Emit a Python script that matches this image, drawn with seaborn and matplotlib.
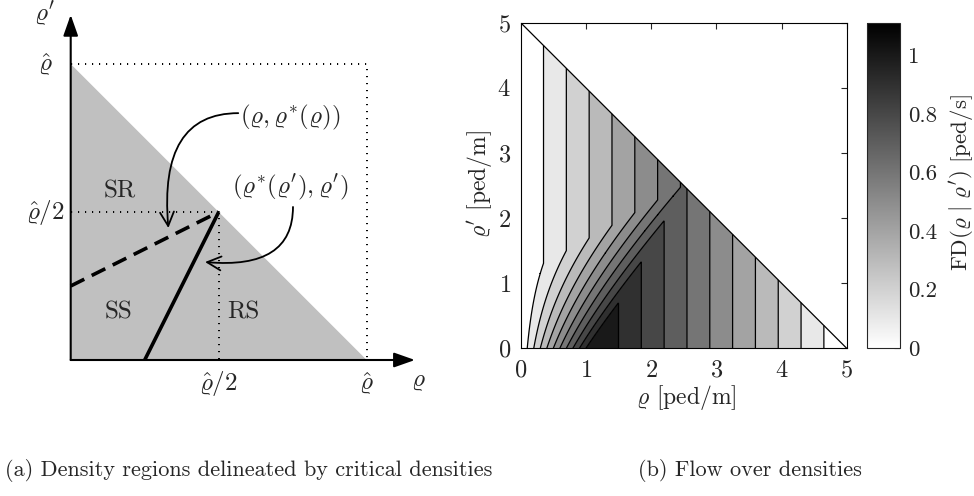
import numpy as np
import matplotlib
matplotlib.use("Agg")
import matplotlib.pyplot as plt
import seaborn as sns
from matplotlib.colors import Normalize
from matplotlib.cm import ScalarMappable

# ---------------------------------------------------------------
# Model constants (densities in ped/m, flows in ped/s)
# ---------------------------------------------------------------
rho_hat = 5.0            # maximal density
v_free = 1.0             # speed with no opposing density
v_slow = 2.0 / 7.0       # speed in the SR / RS regimes

rho_ticks = [0, 1, 2, 3, 4, 5]
flow_levels = [0.1, 0.2, 0.3, 0.4, 0.5, 0.6, 0.7, 0.8, 0.9, 1.0]
cbar_ticks = [0, 0.2, 0.4, 0.6, 0.8, 1.0]
cbar_ticklabels = ["0", "0.2", "0.4", "0.6", "0.8", "1"]

# schematic panel (a), in units of rho_hat
crit_start = 0.25        # critical-density lines start at rho_hat/4
region_names = ["SR", "SS", "RS"]
captions = ["(a) Density regions delineated by critical densities",
            "(b) Flow over densities"]

# ---------------------------------------------------------------
# Style
# ---------------------------------------------------------------
sns.set_style("white")
plt.rcParams.update({
    "font.family": ["cmr10", "DejaVu Serif"],
    "mathtext.fontset": "cm",
    "axes.formatter.use_mathtext": True,
    "axes.unicode_minus": False,
})
gray_cmap = sns.blend_palette(["white", "black"], as_cmap=True)

W, H = 974, 496
fig = plt.figure(figsize=(W / 100, H / 100), dpi=100)

# ---------------------------------------------------------------
# (a) schematic of the density regions
# ---------------------------------------------------------------
ox, oy, unit = 70.7, 136.0, 296.0          # origin (px from left/bottom), px per rho_hat
ax1 = fig.add_axes([0, 100 / H, 440 / W, 396 / H])
ax1.set_xlim(-ox / unit, (440 - ox) / unit)
ax1.set_ylim((100 - oy) / unit, (H - oy) / unit)
ax1.axis("off")

ax1.fill([0, 1, 0], [0, 0, 1], color="#c0c0c0", lw=0, zorder=1)

dot = (0, (0.6, 3.0))
ax1.plot([0, 1, 1], [1, 1, 0], color="k", lw=1.4, ls=dot, zorder=2)
ax1.plot([0, 0.5, 0.5], [0.5, 0.5, 0], color="k", lw=1.4, ls=dot, zorder=2)

# critical densities: (rho, rho*(rho)) dashed, (rho*(rho'), rho') solid
ax1.plot([0, 0.5], [crit_start, 0.5], color="k", lw=2.6, dashes=(4.2, 2.3), zorder=3)
ax1.plot([crit_start, 0.5], [0, 0.5], color="k", lw=2.6, solid_capstyle="butt", zorder=3)

axis_arrow = dict(arrowstyle="-|>,head_length=0.85,head_width=0.3", lw=1.5,
                  color="k", shrinkA=0, shrinkB=0, mutation_scale=15)
ax1.annotate("", xy=(1.163, 0), xytext=(0, 0), arrowprops=axis_arrow, zorder=4)
ax1.annotate("", xy=(0, 1.166), xytext=(0, 0), arrowprops=axis_arrow, zorder=4)

fs = 18
ax1.text(-0.087, 1.17, r"$\varrho'$", fontsize=fs, ha="center", va="center")
ax1.text(1.175, -0.075, r"$\varrho$", fontsize=fs, ha="center", va="center")
ax1.text(-0.087, 0.997, r"$\hat{\varrho}$", fontsize=fs, ha="center", va="center")
ax1.text(-0.087, 0.497, r"$\hat{\varrho}/2$", fontsize=fs, ha="center", va="center")
ax1.text(0.5, -0.078, r"$\hat{\varrho}/2$", fontsize=fs, ha="center", va="center")
ax1.text(1.0, -0.078, r"$\hat{\varrho}$", fontsize=fs, ha="center", va="center")

for name, (tx, ty) in zip(region_names, [(0.167, 0.568), (0.16, 0.162), (0.583, 0.162)]):
    ax1.text(tx, ty, name, fontsize=fs, ha="center", va="center")

ax1.text(0.741, 0.821, r"$(\varrho, \varrho^{*}(\varrho))$", fontsize=fs,
         ha="center", va="center")
ax1.text(0.741, 0.584, r"$(\varrho^{*}(\varrho'), \varrho')$", fontsize=fs,
         ha="center", va="center")

pointer = dict(arrowstyle="->,head_length=0.5,head_width=0.25", lw=1.3, color="k",
               shrinkA=0, shrinkB=0, mutation_scale=20)
ax1.annotate("", xy=(0.33, 0.446), xytext=(0.566, 0.834),
             arrowprops=dict(pointer, connectionstyle="angle3,angleA=0,angleB=95"))
ax1.annotate("", xy=(0.454, 0.331), xytext=(0.751, 0.517),
             arrowprops=dict(pointer, connectionstyle="angle3,angleA=90,angleB=-5"))

# ---------------------------------------------------------------
# (b) flow FD(rho | rho') over the admissible density triangle
# ---------------------------------------------------------------
rho_c0 = rho_hat * v_slow / (v_free + v_slow)          # critical density at rho' = 0
slope = (rho_hat / 2 - rho_c0) / (rho_hat / 2)          # critical lines meet at rho_hat/2
offset = rho_c0 / slope

grid = np.linspace(0, rho_hat, 901)
R, Rp = np.meshgrid(grid, grid)
flow_ss = v_free * R * (R + offset - Rp) / (R + offset + Rp)
flow = np.where(Rp >= rho_c0 + slope * R, v_slow * R,
                np.where(R >= rho_c0 + slope * Rp, v_slow * (rho_hat - R), flow_ss))
flow = np.where(R + Rp <= rho_hat + 1e-9, flow, np.nan)

f_max = float(np.nanmax(flow))
norm = Normalize(vmin=0, vmax=f_max)
fill_levels = [0.0] + flow_levels + [f_max + 1e-6]
band_colors = [gray_cmap(norm(v)) for v in fill_levels[:-1]]

ax2 = fig.add_axes([520.7 / W, (H - 348.3) / H, 326 / W, 325.6 / H])
ax2.contourf(R, Rp, flow, levels=fill_levels, colors=band_colors, antialiased=True)
ax2.contour(R, Rp, flow, levels=flow_levels, colors="k", linewidths=0.9)
ax2.plot([0, rho_hat], [rho_hat, 0], color="k", lw=0.9)

ax2.set_xlim(0, rho_hat)
ax2.set_ylim(0, rho_hat)
ax2.set_xticks(rho_ticks)
ax2.set_yticks(rho_ticks)
ax2.tick_params(direction="in", top=True, right=True, length=4, width=0.8,
                labelsize=17.5)
ax2.tick_params(axis="x", pad=8)
ax2.tick_params(axis="y", pad=7)
for sp in ax2.spines.values():
    sp.set_linewidth(0.8)
    sp.set_color("k")

ax2.set_xlabel(r"$\varrho$ [ped/m]", fontsize=17, va="center")
ax2.xaxis.set_label_coords(0.507, -0.150)
ax2.set_ylabel(r"$\varrho'$ [ped/m]", fontsize=17, va="center")
ax2.yaxis.set_label_coords(-0.125, 0.505)

cax = fig.add_axes([867.3 / W, (H - 348.3) / H, 32.7 / W, 325.6 / H])
cbar = fig.colorbar(ScalarMappable(norm=norm, cmap=gray_cmap), cax=cax)
cbar.set_ticks(cbar_ticks, labels=cbar_ticklabels)
cax.tick_params(direction="in", length=4, width=0.8, labelsize=16.5, pad=6)
cbar.outline.set_linewidth(0.8)
cbar.set_label(r"$\mathrm{FD}(\varrho\ |\ \varrho')$ [ped/s]", fontsize=16.5,
               rotation=90, va="center", ha="center", rotation_mode="anchor")
cax.yaxis.set_label_coords(2.88, 0.51)

# ---------------------------------------------------------------
# captions
# ---------------------------------------------------------------
fig.text(5 / W, (H - 471) / H, captions[0], fontsize=16, ha="left", va="center")
fig.text(638 / W, (H - 471) / H, captions[1], fontsize=16, ha="left", va="center")

fig.savefig("out.png", dpi=100, facecolor="white")
